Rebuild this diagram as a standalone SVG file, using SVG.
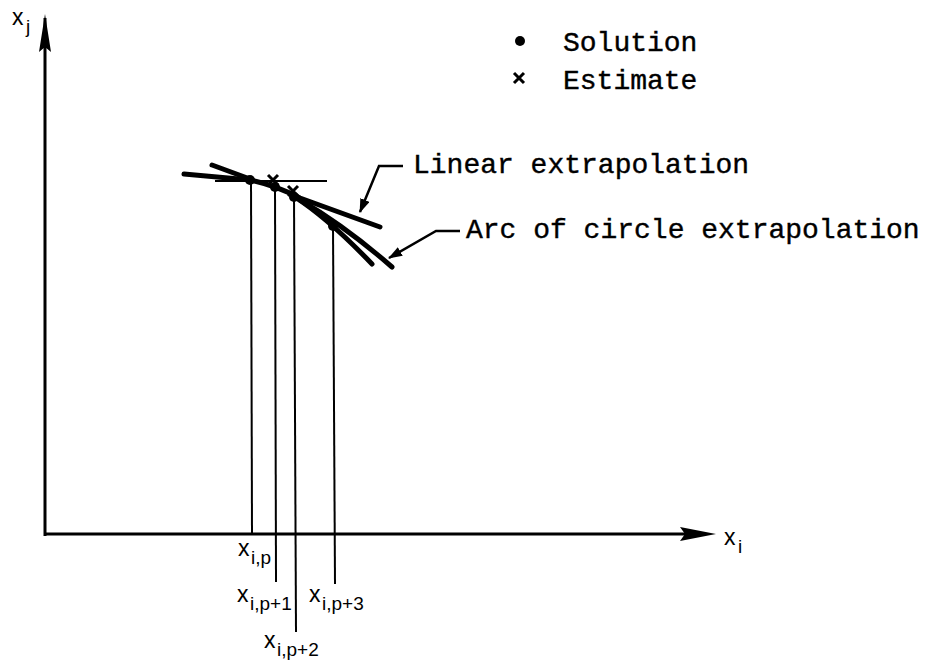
<svg xmlns="http://www.w3.org/2000/svg" width="937" height="665" viewBox="0 0 937 665">
<style>
.ax{stroke:#000;stroke-width:3;fill:none}
.thin{stroke:#000;stroke-width:2;fill:none}
.curve{stroke:#000;stroke-width:5;fill:none;stroke-linecap:round}
.lead{stroke:#000;stroke-width:2.5;fill:none}
.mono{font-family:"Liberation Mono","Courier New",monospace;font-size:28px;fill:#000;stroke:#000;stroke-width:0.4}
.math{font-family:"Liberation Sans",Arial,sans-serif;font-size:23px;fill:#000}
.sub{font-family:"Liberation Sans",Arial,sans-serif;font-size:19px;fill:#000}
</style>
<defs>
<marker id="ah" markerWidth="14" markerHeight="10" refX="13" refY="5" orient="auto" markerUnits="userSpaceOnUse">
<path d="M0,0 L14,5 L0,10 Z" fill="#000"/>
</marker>
</defs>
<g id="axes">
<line class="ax" x1="45" y1="536" x2="45" y2="18"/>
<path d="M45,14 L51,52 L45,47 L39,52 Z" fill="#000"/>
<line class="ax" x1="44" y1="534" x2="700" y2="534"/>
<path d="M716,534 L680,527 L685,534 L680,541 Z" fill="#000"/>
<text class="math" x="12" y="25">x</text><text class="sub" x="26" y="33">j</text>
<text class="math" x="724" y="545">x</text><text class="sub" x="738" y="553">i</text>
</g>
<g id="legend">
<circle cx="520" cy="41" r="5" fill="#000"/>
<text class="mono" x="563" y="51">Solution</text>
<path d="M514,73 L524,83 M524,73 L514,83" stroke="#000" stroke-width="3"/>
<text class="mono" x="563" y="89">Estimate</text>
</g>
<g id="connectors">
<line class="thin" x1="251" y1="180" x2="252" y2="534"/>
<line class="thin" x1="275" y1="187" x2="276" y2="582"/>
<line class="thin" x1="294" y1="197" x2="296" y2="632"/>
<line class="thin" x1="333" y1="226" x2="335" y2="584"/>
<line class="thin" x1="215" y1="181" x2="327" y2="181"/>
<path class="lead" d="M403,166 L379,166 L360,212" marker-end="url(#ah)"/>
<path class="lead" d="M460,231 L436,231 L389,258" marker-end="url(#ah)"/>
</g>
<g id="curves">
<path class="curve" d="M184,174 L250,180"/>
<path class="curve" d="M212,165 L250,179"/>
<path class="curve" d="M250,180 Q275,185 300,198 L380,227"/>
<path class="curve" d="M295,197 Q330,220 372,264"/>
<path class="curve" d="M300,200 Q345,226 392,267"/>
</g>
<g id="points">
<circle cx="250" cy="180" r="5" fill="#000"/>
<circle cx="275" cy="187" r="5" fill="#000"/>
<circle cx="294" cy="197" r="5" fill="#000"/>
<circle cx="333" cy="226" r="5" fill="#000"/>
<path d="M268,175 L278,185 M278,175 L268,185" stroke="#000" stroke-width="3"/>
<path d="M288,186 L298,196 M298,186 L288,196" stroke="#000" stroke-width="3"/>
</g>
<g id="labels">
<text class="mono" x="413" y="173">Linear extrapolation</text>
<text class="mono" x="466" y="238">Arc of circle extrapolation</text>
<text class="math" x="238" y="556">x</text><text class="sub" x="251" y="564">i,p</text>
<text class="math" x="237" y="602">x</text><text class="sub" x="250" y="610">i,p+1</text>
<text class="math" x="309" y="602">x</text><text class="sub" x="322" y="610">i,p+3</text>
<text class="math" x="264" y="648">x</text><text class="sub" x="277" y="656">i,p+2</text>
</g>
</svg>
